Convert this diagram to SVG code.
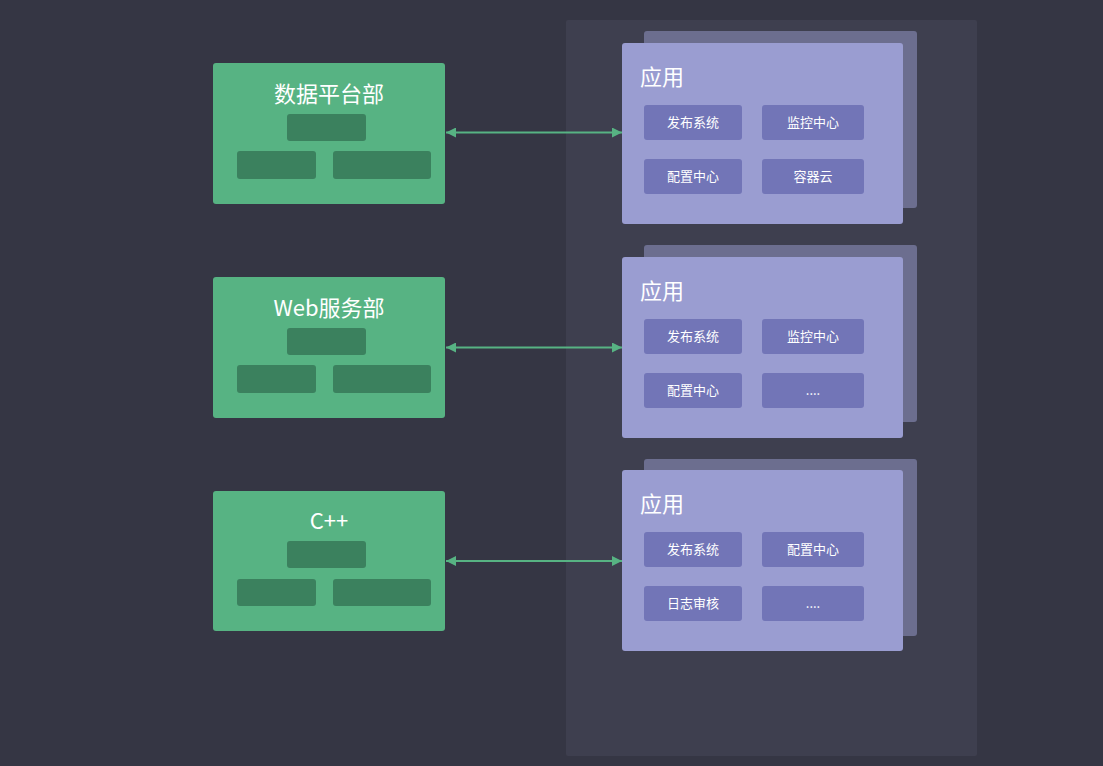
<svg xmlns="http://www.w3.org/2000/svg" width="1103" height="766" viewBox="0 0 1103 766">
<defs>
<style>
.bg{fill:#353644}
.panel{fill:#3e3f4f}
.dept{fill:#57b383}
.blk{fill:#3b815e}
.back{fill:#6c6e8f}
.front{fill:#9a9dd1}
.sub{fill:#7275b7}
.t1{font-family:"Noto Sans CJK SC","Noto Sans",sans-serif;font-size:22px;fill:#ffffff;text-anchor:middle}
.t2{font-family:"Noto Sans CJK SC","Noto Sans",sans-serif;font-size:22px;fill:#ffffff}
.t3{font-family:"Noto Sans CJK SC","Noto Sans",sans-serif;font-size:13px;fill:#ffffff;text-anchor:middle}
.link{stroke:#57b383;stroke-width:2;fill:none}
</style>
<marker id="ah" viewBox="0 0 10 10" refX="10" refY="5" markerWidth="14" markerHeight="10" markerUnits="userSpaceOnUse" orient="auto-start-reverse">
<path d="M0,0 L10,5 L0,10 z" fill="#57b383"/>
</marker>
</defs>
<rect class="bg" x="0" y="0" width="1103" height="766"/>
<rect class="panel" x="566" y="20" width="411" height="736" rx="2"/>

<g id="dept1">
<rect class="dept" x="213" y="63" width="232" height="141" rx="3"/>
<text class="t1" x="329" y="102">数据平台部</text>
<rect class="blk" x="287" y="114" width="79" height="27" rx="3"/>
<rect class="blk" x="237" y="151" width="79" height="28" rx="3"/>
<rect class="blk" x="333" y="151" width="98" height="28" rx="3"/>
</g>
<g id="dept2">
<rect class="dept" x="213" y="277" width="232" height="141" rx="3"/>
<text class="t1" x="329" y="316">Web服务部</text>
<rect class="blk" x="287" y="328" width="79" height="27" rx="3"/>
<rect class="blk" x="237" y="365" width="79" height="28" rx="3"/>
<rect class="blk" x="333" y="365" width="98" height="28" rx="3"/>
</g>
<g id="dept3">
<rect class="dept" x="213" y="491" width="232" height="140" rx="3"/>
<text class="t1" x="329" y="529">C++</text>
<rect class="blk" x="287" y="541" width="79" height="27" rx="3"/>
<rect class="blk" x="237" y="579" width="79" height="27" rx="3"/>
<rect class="blk" x="333" y="579" width="98" height="27" rx="3"/>
</g>

<g id="app1">
<rect class="back" x="644" y="31" width="273" height="177" rx="3"/>
<rect class="front" x="622" y="43" width="281" height="181" rx="3"/>
<text class="t2" x="640" y="85">应用</text>
<rect class="sub" x="644" y="105" width="98" height="35" rx="3"/>
<text class="t3" x="693" y="127">发布系统</text>
<rect class="sub" x="762" y="105" width="102" height="35" rx="3"/>
<text class="t3" x="813" y="127">监控中心</text>
<rect class="sub" x="644" y="159" width="98" height="35" rx="3"/>
<text class="t3" x="693" y="181">配置中心</text>
<rect class="sub" x="762" y="159" width="102" height="35" rx="3"/>
<text class="t3" x="813" y="181">容器云</text>
</g>
<g id="app2">
<rect class="back" x="644" y="245" width="273" height="177" rx="3"/>
<rect class="front" x="622" y="257" width="281" height="181" rx="3"/>
<text class="t2" x="640" y="299">应用</text>
<rect class="sub" x="644" y="319" width="98" height="35" rx="3"/>
<text class="t3" x="693" y="341">发布系统</text>
<rect class="sub" x="762" y="319" width="102" height="35" rx="3"/>
<text class="t3" x="813" y="341">监控中心</text>
<rect class="sub" x="644" y="373" width="98" height="35" rx="3"/>
<text class="t3" x="693" y="395">配置中心</text>
<rect class="sub" x="762" y="373" width="102" height="35" rx="3"/>
<text class="t3" x="813" y="395">....</text>
</g>
<g id="app3">
<rect class="back" x="644" y="459" width="273" height="177" rx="3"/>
<rect class="front" x="622" y="470" width="281" height="181" rx="3"/>
<text class="t2" x="640" y="512">应用</text>
<rect class="sub" x="644" y="532" width="98" height="35" rx="3"/>
<text class="t3" x="693" y="554">发布系统</text>
<rect class="sub" x="762" y="532" width="102" height="35" rx="3"/>
<text class="t3" x="813" y="554">配置中心</text>
<rect class="sub" x="644" y="586" width="98" height="35" rx="3"/>
<text class="t3" x="693" y="608">日志审核</text>
<rect class="sub" x="762" y="586" width="102" height="35" rx="3"/>
<text class="t3" x="813" y="608">....</text>
</g>

<g id="connectors">
<line class="link" x1="446" y1="132.5" x2="622" y2="132.5" marker-start="url(#ah)" marker-end="url(#ah)"/>
<line class="link" x1="446" y1="347.5" x2="622" y2="347.5" marker-start="url(#ah)" marker-end="url(#ah)"/>
<line class="link" x1="446" y1="561" x2="622" y2="561" marker-start="url(#ah)" marker-end="url(#ah)"/>
</g>
</svg>
